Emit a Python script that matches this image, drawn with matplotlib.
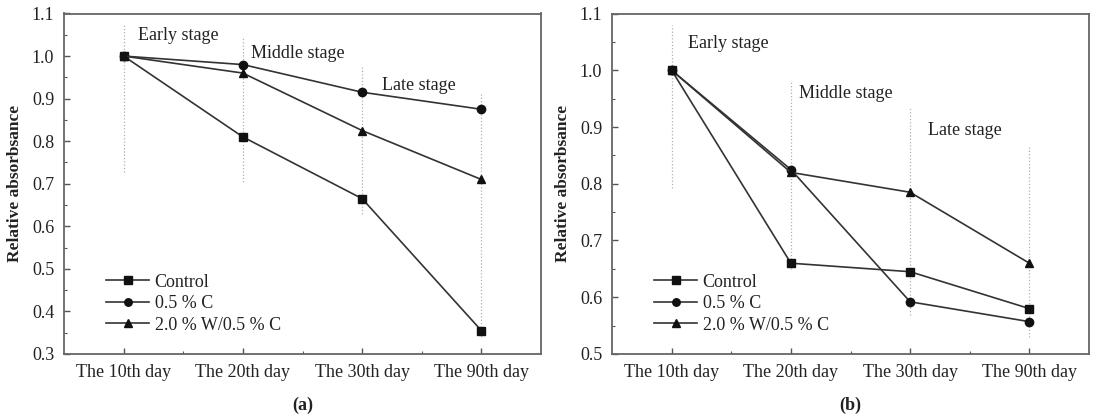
import matplotlib
matplotlib.use("Agg")
import matplotlib.pyplot as plt
from matplotlib.ticker import MultipleLocator, FixedLocator

plt.rcParams['font.family'] = ['Liberation Serif', 'DejaVu Serif']

days = ["The 10th day", "The 20th day", "The 30th day", "The 90th day"]
series_names = ["Control", "0.5 % C", "2.0 % W/0.5 % C"]
markers = ["s", "o", "^"]

a_control = [1.0, 0.81, 0.665, 0.355]
a_c05 = [1.0, 0.98, 0.915, 0.875]
a_w20 = [1.0, 0.96, 0.825, 0.71]

b_control = [1.0, 0.66, 0.645, 0.58]
b_c05 = [1.0, 0.825, 0.592, 0.557]
b_w20 = [1.0, 0.82, 0.785, 0.66]

# vertical dotted guide lines (top, bottom) per category
a_guides_top = [1.073, 1.047, 0.975, 0.916]
a_guides_bot = [0.728, 0.705, 0.630, 0.341]
b_guides_top = [1.079, 0.983, 0.936, 0.868]
b_guides_bot = [0.792, 0.650, 0.569, 0.530]

stage_labels = ["Early stage", "Middle stage", "Late stage"]
a_stage_x = [0.12, 1.07, 2.17]
a_stage_y = [1.049, 1.006, 0.932]
b_stage_x = [0.14, 1.07, 2.15]
b_stage_y = [1.047, 0.959, 0.893]

a_ylim = (0.3, 1.1)
b_ylim = (0.5, 1.1)

W, H = 1094, 417
fig = plt.figure(figsize=(W / 100, H / 100), dpi=100)
ax_a = fig.add_axes([64 / W, (H - 354) / H, 477 / W, 340.5 / H])
ax_b = fig.add_axes([612 / W, (H - 354) / H, 477 / W, 340.5 / H])

line_col = "#333333"
fs = 13


def draw(ax, data, gtop, gbot, sx, sy, ylim, panel):
    x = list(range(len(days)))
    ax.vlines(x, gbot, gtop, colors="#b0b0b0", linestyles=":", linewidth=0.9, zorder=1)
    for vals, name, m in zip(data, series_names, markers):
        ax.plot(x, vals, color=line_col, marker=m, markersize=6, linewidth=1.2,
                markerfacecolor="#111111", markeredgecolor="#111111", label=name, zorder=3)
    for t, tx, ty in zip(stage_labels, sx, sy):
        ax.text(tx, ty, t, fontsize=fs, va="center", ha="left", color="#222222")
    ax.set_xlim(-0.5, 3.5)
    ax.set_ylim(*ylim)
    ax.set_xticks(x)
    ax.set_xticklabels(days, fontsize=fs, color="#222222")
    ax.xaxis.set_minor_locator(FixedLocator([0.5, 1.5, 2.5]))
    ax.yaxis.set_major_locator(MultipleLocator(0.1))
    ax.yaxis.set_minor_locator(MultipleLocator(0.05))
    ax.yaxis.set_major_formatter(matplotlib.ticker.FormatStrFormatter("%.1f"))
    for lab in ax.get_yticklabels():
        lab.set_fontsize(fs)
        lab.set_color("#222222")
    ax.tick_params(axis="both", which="major", direction="in", length=4, width=1,
                   color="#555555", pad=7)
    ax.tick_params(axis="both", which="minor", direction="in", length=2.5, width=0.8,
                   color="#555555")
    for sp in ax.spines.values():
        sp.set_color("#666666")
        sp.set_linewidth(1.3)
    ax.set_ylabel("Relative absorbsance", fontsize=12.5, fontweight="bold", color="#222222",
                  labelpad=6)
    ax.text(0.5, -0.15, panel, transform=ax.transAxes, ha="center", va="center",
            fontsize=13, fontweight="bold", color="#222222")
    leg = ax.legend(loc="lower left", bbox_to_anchor=(0.065, 0.028), frameon=False,
                    fontsize=fs, handlelength=2.4, handletextpad=0.3, labelspacing=0.25,
                    borderaxespad=0.2, markerscale=0.9)
    for t in leg.get_texts():
        t.set_color("#222222")


draw(ax_a, [a_control, a_c05, a_w20], a_guides_top, a_guides_bot,
     a_stage_x, a_stage_y, a_ylim, "(a)")
draw(ax_b, [b_control, b_c05, b_w20], b_guides_top, b_guides_bot,
     b_stage_x, b_stage_y, b_ylim, "(b)")

fig.savefig("out.png", dpi=100)
